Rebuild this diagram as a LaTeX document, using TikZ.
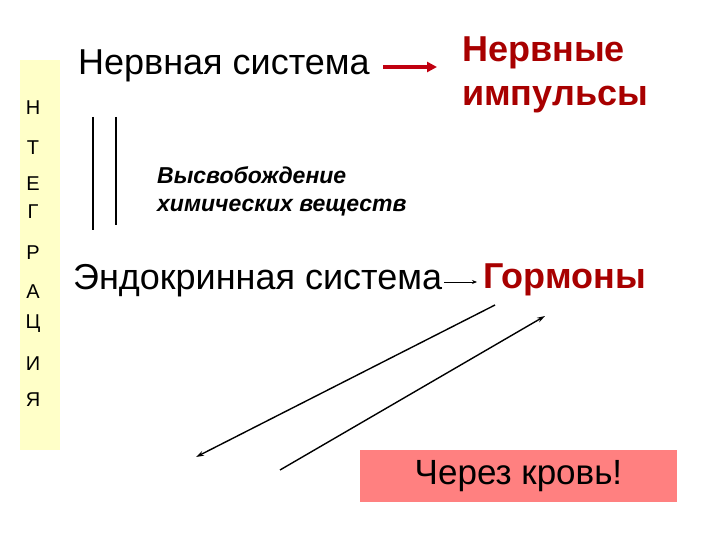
\documentclass[tikz,border=0pt]{standalone}
\usepackage{fontspec}
\setmainfont{Liberation Sans}
\usetikzlibrary{arrows.meta}
\definecolor{strip}{HTML}{FFFFC8}
\definecolor{dred}{HTML}{A80000}
\definecolor{arrred}{HTML}{C00010}
\definecolor{pinkbox}{HTML}{FF8080}
\tikzset{
  lett/.style={font=\fontsize{20}{20}\selectfont, inner sep=0},
  big/.style={font=\fontsize{36}{36}\selectfont, inner sep=0, anchor=west},
  bigred/.style={font=\fontsize{36}{44}\selectfont\bfseries, text=dred, inner sep=0},
  conn/.style={line width=1.4pt, -{Stealth[length=8pt,width=5pt]}},
}
\begin{document}
\begin{tikzpicture}[x=1pt,y=-1pt]
\useasboundingbox (0,0) rectangle (720,540);
\fill[strip] (20,60) rectangle (60,450);
\foreach \l/\y [count=\i] in {Н/108,Т/148,Е/184,Г/212,Р/253,А/292,Ц/324,И/364,Я/400}
  \node[lett] (l\i) at (33,\y) {\l};
\node[big] (ns) at (78,66) {Нервная система};
\node[bigred, align=left, anchor=west] (ni) at (462,75) {Нервные\\импульсы};
\coordinate (a1) at (383,67);
\coordinate (a2) at (437,67);
\draw[arrred, line width=4pt, -{Triangle[length=10pt,width=10pt]}] (a1) -- (a2);
\draw[line width=1.5pt] (93,117) coordinate (v1) -- (93,230) coordinate (v2);
\draw[line width=1.5pt] (116,117) coordinate (v3) -- (116,225) coordinate (v4);
\node[font=\fontsize{23}{28}\selectfont\bfseries\itshape, align=left, anchor=west, inner sep=0] (hv) at (157,191) {Высвобождение\\химических веществ};
\node[big] (es) at (73,281) {Эндокринная система};
\node[bigred, anchor=west] (gm) at (483,280) {Гормоны};
\coordinate (b1) at (444,282);
\coordinate (b2) at (477,282);
\draw[line width=0.9pt, -{Stealth[length=5pt,width=4pt]}] (b1) -- (b2);
\node[fill=pinkbox, minimum width=317pt, minimum height=52pt, inner sep=0, font=\fontsize{35}{35}\selectfont] (kr) at (518.5,476) {\raisebox{-3pt}{Через кровь!}};
\coordinate (p1) at (495,305);
\coordinate (p2) at (196,457);
\coordinate (p3) at (280,470);
\coordinate (p4) at (545,316);
\draw[conn] (p1) -- (p2);
\draw[conn] (p3) -- (p4);
\end{tikzpicture}
\end{document}
